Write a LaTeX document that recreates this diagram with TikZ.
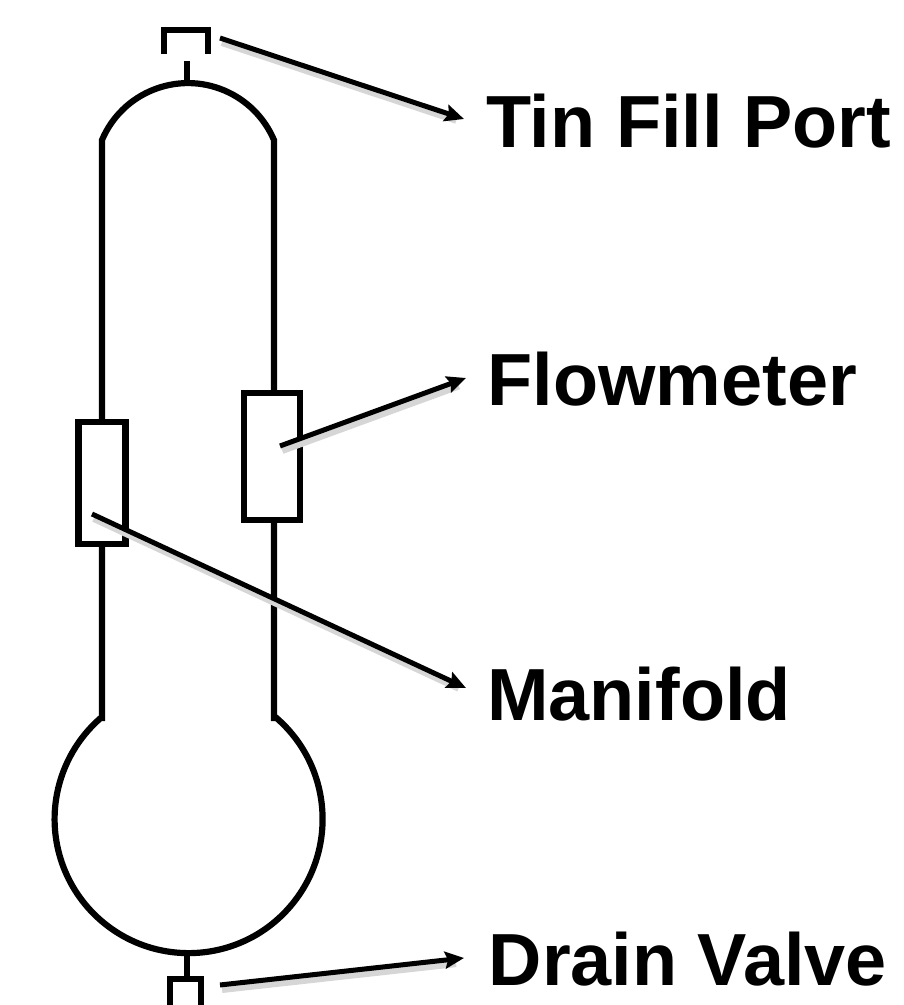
\documentclass[tikz,border=0pt]{standalone}
\usepackage{fontspec}
\setmainfont{Liberation Sans}
\usetikzlibrary{calc, arrows.meta}
\tikzset{
  vessel/.style={line width=.062cm,line join=miter},
  part/.style={draw,line width=.062cm,fill=white,inner sep=0pt},
  leader/.style={-{Stealth[length=.19cm,width=.17cm,inset=.03cm]},line width=.05cm,
    preaction={draw=black!16,line width=.08cm,shorten >=.1cm,-,transform canvas={shift={(2,-4)}}}},
  tag/.style={anchor=base west,inner sep=0pt,font=\fontsize{21}{24}\selectfont\bfseries}
}
\begin{document}
\begin{tikzpicture}[x=0.01cm,y=0.01cm]
\useasboundingbox (0,0) rectangle (904,1005);
% vessel outline
\draw [vessel] (102,865) arc (157:23:93.4) -- (274,287) -- (276.5,287) arc (49:-229:134) -- (102,287) -- cycle;
\draw [vessel] (187,944) -- (187,921);
\draw [vessel] (187,51) -- (187,26);
% fill port
\draw [vessel] (163.7,951) -- (163.7,975) -- (208,975) -- (208,951);
\coordinate (portend) at (220,967);
% parts on the pipes
\node [part,minimum width=.47cm,minimum height=1.22cm] (manifold) at (102,522.3) {};
\node [part,minimum width=.562cm,minimum height=1.273cm] (flowmeter) at (272,548.3) {};
\node [part,minimum width=.31cm,minimum height=.31cm] (drain) at (185.5,10.5) {};
\coordinate (manifoldend) at (92,491);
\coordinate (flowend) at (280,559);
\coordinate (drainend) at (220,20);
% labels
\node [tag] (tPort) at (485.5,857.7) {Tin Fill Port};
\node [tag] (tFlow) at (487,599.3) {Flowmeter};
\node [tag] (tMani) at (486.5,284.3) {Manifold};
\node [tag] (tDrain) at (488,19.3) {Drain Valve};
% leaders
\draw [leader] (portend) -- ($ (tPort.base west) + (-21.5,28.3) $);
\draw [leader] (flowend) -- ($ (tFlow.base west) + (-21,27.7) $);
\draw [leader] (manifoldend) -- ($ (tMani.base west) + (-20.5,32.7) $);
\draw [leader] (drainend) -- ($ (tDrain.base west) + (-24,27.7) $);
\end{tikzpicture}
\end{document}
